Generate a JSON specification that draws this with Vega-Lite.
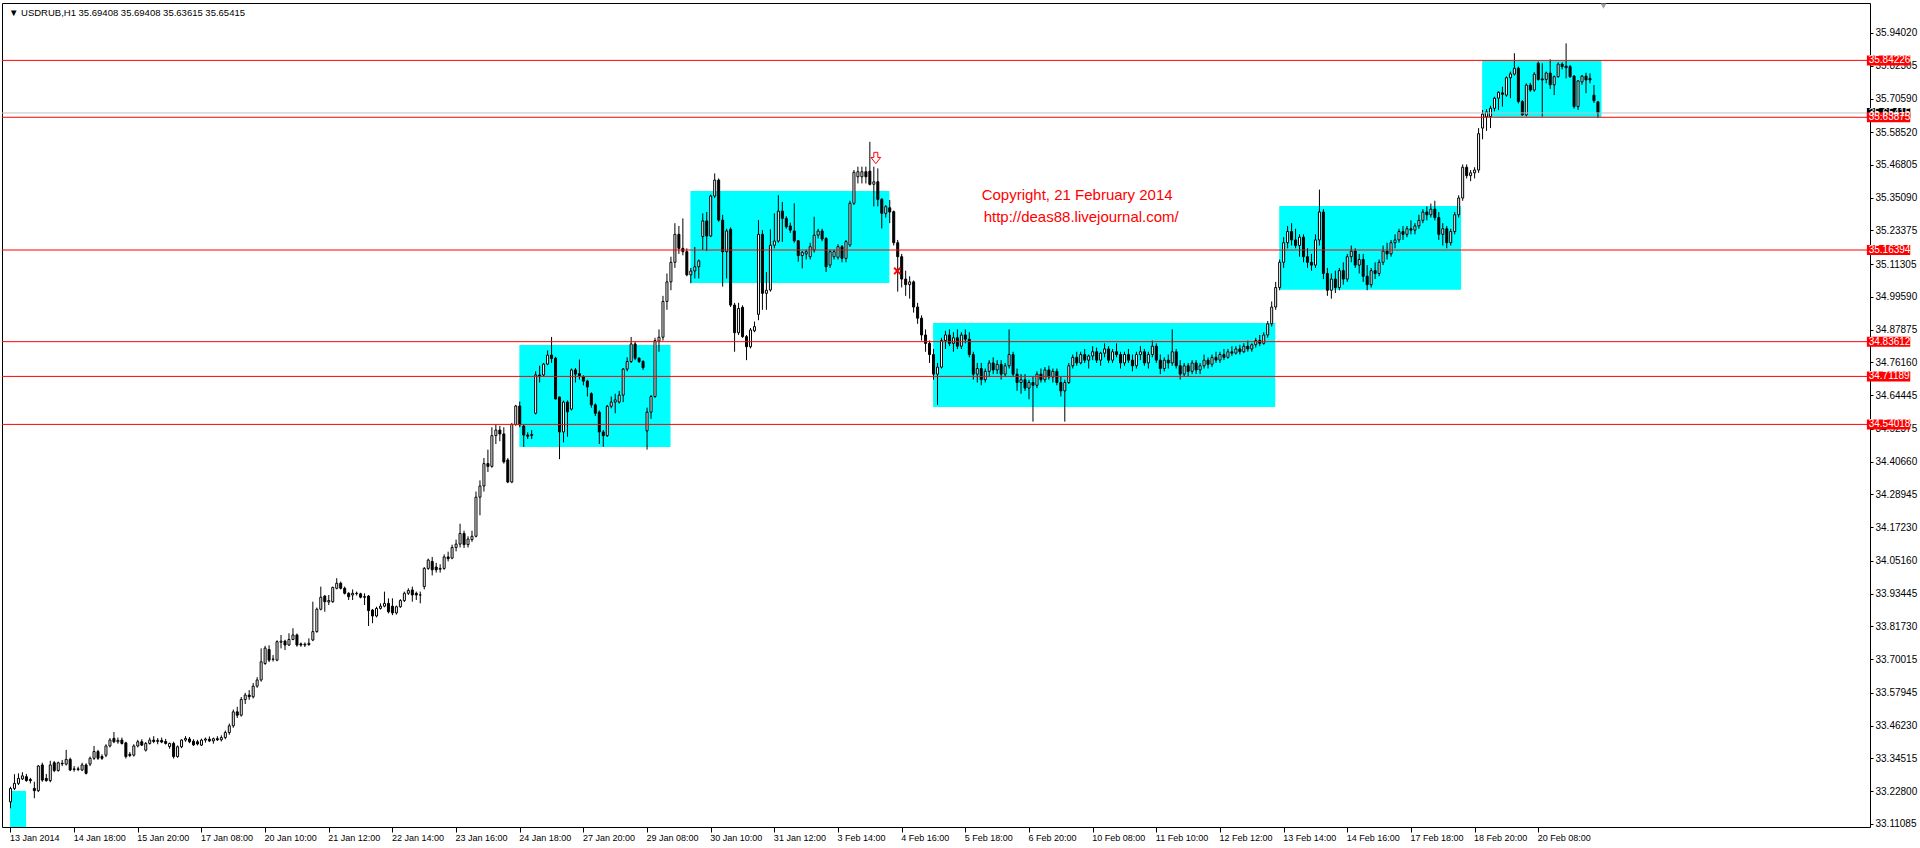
{
"$schema": "https://vega.github.io/schema/vega-lite/v6.json",
"width": 1868, "height": 824,
"autosize": "none",
"padding": {"left": 2, "top": 3, "right": 50, "bottom": 21},
"background": "white",
"config": {"view": {"stroke": "black", "strokeWidth": 1}, "font": "Liberation Sans",
 "axis": {"labelOverlap": false, "labelBound": false, "labelFlush": false, "grid": false, "domain": false, "title": null},
 "axisQuantitative": {"labelOverlap": false, "tickCount": 25}},
"title": {"text": "▼  USDRUB,H1  35.69408 35.69408 35.63615 35.65415", "anchor": "start", "orient": "top", "frame": "group", "offset": -9, "dx": 7, "dy": 10, "baseline": "middle", "fontSize": 9.5, "fontWeight": "normal", "color": "black", "font": "Liberation Sans"},
"datasets": {
"bars": [
{"i":0,"o":33.190,"h":33.244,"l":33.167,"c":33.238},
{"i":1,"o":33.238,"h":33.289,"l":33.232,"c":33.256},
{"i":2,"o":33.256,"h":33.292,"l":33.250,"c":33.274},
{"i":3,"o":33.272,"h":33.296,"l":33.268,"c":33.283},
{"i":4,"o":33.280,"h":33.290,"l":33.262,"c":33.266},
{"i":5,"o":33.270,"h":33.276,"l":33.256,"c":33.266},
{"i":6,"o":33.238,"h":33.262,"l":33.203,"c":33.230},
{"i":7,"o":33.230,"h":33.322,"l":33.225,"c":33.318},
{"i":8,"o":33.322,"h":33.330,"l":33.262,"c":33.268},
{"i":9,"o":33.274,"h":33.290,"l":33.262,"c":33.266},
{"i":10,"o":33.266,"h":33.337,"l":33.260,"c":33.322},
{"i":11,"o":33.330,"h":33.336,"l":33.296,"c":33.302},
{"i":12,"o":33.302,"h":33.334,"l":33.298,"c":33.330},
{"i":13,"o":33.328,"h":33.340,"l":33.318,"c":33.326},
{"i":14,"o":33.325,"h":33.376,"l":33.320,"c":33.342},
{"i":15,"o":33.342,"h":33.348,"l":33.300,"c":33.304},
{"i":16,"o":33.306,"h":33.318,"l":33.298,"c":33.308},
{"i":17,"o":33.308,"h":33.316,"l":33.300,"c":33.306},
{"i":18,"o":33.304,"h":33.330,"l":33.300,"c":33.322},
{"i":19,"o":33.322,"h":33.328,"l":33.288,"c":33.292},
{"i":20,"o":33.325,"h":33.352,"l":33.318,"c":33.346},
{"i":21,"o":33.346,"h":33.390,"l":33.340,"c":33.370},
{"i":22,"o":33.370,"h":33.376,"l":33.340,"c":33.346},
{"i":23,"o":33.352,"h":33.360,"l":33.340,"c":33.346},
{"i":24,"o":33.357,"h":33.396,"l":33.350,"c":33.390},
{"i":25,"o":33.390,"h":33.418,"l":33.385,"c":33.411},
{"i":26,"o":33.417,"h":33.440,"l":33.400,"c":33.405},
{"i":27,"o":33.405,"h":33.420,"l":33.398,"c":33.410},
{"i":28,"o":33.411,"h":33.420,"l":33.395,"c":33.399},
{"i":29,"o":33.401,"h":33.405,"l":33.345,"c":33.352},
{"i":30,"o":33.360,"h":33.368,"l":33.350,"c":33.356},
{"i":31,"o":33.357,"h":33.396,"l":33.352,"c":33.390},
{"i":32,"o":33.390,"h":33.412,"l":33.385,"c":33.405},
{"i":33,"o":33.405,"h":33.414,"l":33.390,"c":33.393},
{"i":34,"o":33.375,"h":33.404,"l":33.370,"c":33.399},
{"i":35,"o":33.399,"h":33.420,"l":33.395,"c":33.411},
{"i":36,"o":33.411,"h":33.425,"l":33.400,"c":33.406},
{"i":37,"o":33.406,"h":33.418,"l":33.396,"c":33.410},
{"i":38,"o":33.410,"h":33.420,"l":33.400,"c":33.404},
{"i":39,"o":33.406,"h":33.415,"l":33.395,"c":33.399},
{"i":40,"o":33.388,"h":33.402,"l":33.380,"c":33.399},
{"i":41,"o":33.399,"h":33.405,"l":33.345,"c":33.352},
{"i":42,"o":33.352,"h":33.392,"l":33.348,"c":33.387},
{"i":43,"o":33.387,"h":33.414,"l":33.382,"c":33.411},
{"i":44,"o":33.411,"h":33.425,"l":33.405,"c":33.417},
{"i":45,"o":33.415,"h":33.422,"l":33.400,"c":33.405},
{"i":46,"o":33.407,"h":33.414,"l":33.390,"c":33.394},
{"i":47,"o":33.405,"h":33.412,"l":33.392,"c":33.397},
{"i":48,"o":33.393,"h":33.416,"l":33.390,"c":33.411},
{"i":49,"o":33.411,"h":33.420,"l":33.402,"c":33.415},
{"i":50,"o":33.414,"h":33.424,"l":33.404,"c":33.408},
{"i":51,"o":33.408,"h":33.420,"l":33.398,"c":33.416},
{"i":52,"o":33.416,"h":33.425,"l":33.408,"c":33.412},
{"i":53,"o":33.412,"h":33.428,"l":33.406,"c":33.420},
{"i":54,"o":33.420,"h":33.445,"l":33.414,"c":33.438},
{"i":55,"o":33.438,"h":33.470,"l":33.430,"c":33.462},
{"i":56,"o":33.462,"h":33.520,"l":33.455,"c":33.512},
{"i":57,"o":33.512,"h":33.530,"l":33.490,"c":33.500},
{"i":58,"o":33.500,"h":33.565,"l":33.495,"c":33.556},
{"i":59,"o":33.556,"h":33.580,"l":33.540,"c":33.572},
{"i":60,"o":33.572,"h":33.590,"l":33.555,"c":33.566},
{"i":61,"o":33.566,"h":33.615,"l":33.560,"c":33.604},
{"i":62,"o":33.604,"h":33.636,"l":33.598,"c":33.626},
{"i":63,"o":33.626,"h":33.739,"l":33.620,"c":33.691},
{"i":64,"o":33.685,"h":33.748,"l":33.680,"c":33.740},
{"i":65,"o":33.735,"h":33.750,"l":33.690,"c":33.697},
{"i":66,"o":33.700,"h":33.715,"l":33.692,"c":33.701},
{"i":67,"o":33.697,"h":33.768,"l":33.693,"c":33.763},
{"i":68,"o":33.761,"h":33.787,"l":33.739,"c":33.765},
{"i":69,"o":33.765,"h":33.770,"l":33.733,"c":33.751},
{"i":70,"o":33.751,"h":33.793,"l":33.748,"c":33.771},
{"i":71,"o":33.771,"h":33.811,"l":33.768,"c":33.787},
{"i":72,"o":33.787,"h":33.792,"l":33.745,"c":33.751},
{"i":73,"o":33.755,"h":33.760,"l":33.745,"c":33.751},
{"i":74,"o":33.751,"h":33.760,"l":33.744,"c":33.754},
{"i":75,"o":33.753,"h":33.775,"l":33.748,"c":33.757},
{"i":76,"o":33.769,"h":33.906,"l":33.765,"c":33.799},
{"i":77,"o":33.799,"h":33.885,"l":33.795,"c":33.879},
{"i":78,"o":33.879,"h":33.960,"l":33.875,"c":33.922},
{"i":79,"o":33.926,"h":33.930,"l":33.870,"c":33.906},
{"i":80,"o":33.905,"h":33.930,"l":33.894,"c":33.910},
{"i":81,"o":33.906,"h":33.960,"l":33.902,"c":33.957},
{"i":82,"o":33.954,"h":33.990,"l":33.950,"c":33.972},
{"i":83,"o":33.972,"h":33.978,"l":33.950,"c":33.954},
{"i":84,"o":33.954,"h":33.960,"l":33.932,"c":33.936},
{"i":85,"o":33.936,"h":33.940,"l":33.912,"c":33.924},
{"i":86,"o":33.930,"h":33.950,"l":33.912,"c":33.936},
{"i":87,"o":33.936,"h":33.942,"l":33.928,"c":33.935},
{"i":88,"o":33.934,"h":33.938,"l":33.918,"c":33.922},
{"i":89,"o":33.924,"h":33.936,"l":33.894,"c":33.922},
{"i":90,"o":33.926,"h":33.930,"l":33.819,"c":33.874},
{"i":91,"o":33.876,"h":33.880,"l":33.829,"c":33.855},
{"i":92,"o":33.855,"h":33.888,"l":33.850,"c":33.882},
{"i":93,"o":33.882,"h":33.900,"l":33.878,"c":33.890},
{"i":94,"o":33.890,"h":33.942,"l":33.886,"c":33.900},
{"i":95,"o":33.900,"h":33.918,"l":33.864,"c":33.870},
{"i":96,"o":33.890,"h":33.918,"l":33.858,"c":33.866},
{"i":97,"o":33.866,"h":33.892,"l":33.860,"c":33.888},
{"i":98,"o":33.888,"h":33.915,"l":33.884,"c":33.910},
{"i":99,"o":33.910,"h":33.942,"l":33.905,"c":33.936},
{"i":100,"o":33.936,"h":33.954,"l":33.930,"c":33.946},
{"i":101,"o":33.948,"h":33.960,"l":33.906,"c":33.930},
{"i":102,"o":33.936,"h":33.942,"l":33.912,"c":33.930},
{"i":103,"o":33.930,"h":33.942,"l":33.900,"c":33.930},
{"i":104,"o":33.960,"h":34.030,"l":33.950,"c":34.025},
{"i":105,"o":34.025,"h":34.060,"l":34.020,"c":34.055},
{"i":106,"o":34.050,"h":34.066,"l":34.000,"c":34.020},
{"i":107,"o":34.030,"h":34.045,"l":34.010,"c":34.020},
{"i":108,"o":34.022,"h":34.040,"l":34.010,"c":34.025},
{"i":109,"o":34.025,"h":34.075,"l":34.020,"c":34.066},
{"i":110,"o":34.066,"h":34.085,"l":34.050,"c":34.060},
{"i":111,"o":34.062,"h":34.110,"l":34.058,"c":34.100},
{"i":112,"o":34.100,"h":34.128,"l":34.086,"c":34.112},
{"i":113,"o":34.112,"h":34.185,"l":34.100,"c":34.150},
{"i":114,"o":34.150,"h":34.160,"l":34.098,"c":34.110},
{"i":115,"o":34.110,"h":34.140,"l":34.100,"c":34.130},
{"i":116,"o":34.128,"h":34.160,"l":34.120,"c":34.140},
{"i":117,"o":34.140,"h":34.300,"l":34.136,"c":34.280},
{"i":118,"o":34.280,"h":34.340,"l":34.215,"c":34.320},
{"i":119,"o":34.320,"h":34.420,"l":34.300,"c":34.400},
{"i":120,"o":34.400,"h":34.450,"l":34.370,"c":34.390},
{"i":121,"o":34.390,"h":34.530,"l":34.385,"c":34.500},
{"i":122,"o":34.500,"h":34.540,"l":34.470,"c":34.520},
{"i":123,"o":34.520,"h":34.535,"l":34.480,"c":34.506},
{"i":124,"o":34.506,"h":34.530,"l":34.400,"c":34.406},
{"i":125,"o":34.413,"h":34.420,"l":34.330,"c":34.334},
{"i":126,"o":34.334,"h":34.545,"l":34.330,"c":34.540},
{"i":127,"o":34.540,"h":34.610,"l":34.535,"c":34.606},
{"i":128,"o":34.606,"h":34.622,"l":34.530,"c":34.538},
{"i":129,"o":34.534,"h":34.540,"l":34.460,"c":34.502},
{"i":130,"o":34.502,"h":34.512,"l":34.488,"c":34.498},
{"i":131,"o":34.500,"h":34.520,"l":34.488,"c":34.504},
{"i":132,"o":34.580,"h":34.730,"l":34.576,"c":34.717},
{"i":133,"o":34.717,"h":34.750,"l":34.690,"c":34.712},
{"i":134,"o":34.717,"h":34.760,"l":34.712,"c":34.756},
{"i":135,"o":34.756,"h":34.805,"l":34.752,"c":34.788},
{"i":136,"o":34.788,"h":34.853,"l":34.760,"c":34.776},
{"i":137,"o":34.777,"h":34.782,"l":34.630,"c":34.631},
{"i":138,"o":34.638,"h":34.640,"l":34.416,"c":34.513},
{"i":139,"o":34.513,"h":34.625,"l":34.476,"c":34.620},
{"i":140,"o":34.620,"h":34.626,"l":34.496,"c":34.585},
{"i":141,"o":34.595,"h":34.740,"l":34.590,"c":34.735},
{"i":142,"o":34.735,"h":34.742,"l":34.690,"c":34.720},
{"i":143,"o":34.722,"h":34.772,"l":34.700,"c":34.714},
{"i":144,"o":34.710,"h":34.716,"l":34.680,"c":34.695},
{"i":145,"o":34.695,"h":34.700,"l":34.640,"c":34.674},
{"i":146,"o":34.650,"h":34.655,"l":34.600,"c":34.610},
{"i":147,"o":34.610,"h":34.615,"l":34.570,"c":34.580},
{"i":148,"o":34.584,"h":34.590,"l":34.470,"c":34.513},
{"i":149,"o":34.513,"h":34.520,"l":34.460,"c":34.500},
{"i":150,"o":34.500,"h":34.610,"l":34.495,"c":34.605},
{"i":151,"o":34.605,"h":34.640,"l":34.598,"c":34.620},
{"i":152,"o":34.620,"h":34.650,"l":34.580,"c":34.628},
{"i":153,"o":34.620,"h":34.660,"l":34.615,"c":34.645},
{"i":154,"o":34.645,"h":34.742,"l":34.620,"c":34.738},
{"i":155,"o":34.738,"h":34.780,"l":34.730,"c":34.765},
{"i":156,"o":34.765,"h":34.853,"l":34.760,"c":34.828},
{"i":157,"o":34.828,"h":34.835,"l":34.770,"c":34.777},
{"i":158,"o":34.777,"h":34.780,"l":34.760,"c":34.765},
{"i":159,"o":34.765,"h":34.770,"l":34.735,"c":34.743},
{"i":160,"o":34.517,"h":34.600,"l":34.450,"c":34.584},
{"i":161,"o":34.584,"h":34.645,"l":34.560,"c":34.640},
{"i":162,"o":34.640,"h":34.850,"l":34.635,"c":34.840},
{"i":163,"o":34.838,"h":34.880,"l":34.800,"c":34.852},
{"i":164,"o":34.852,"h":35.000,"l":34.840,"c":34.980},
{"i":165,"o":34.980,"h":35.080,"l":34.950,"c":35.050},
{"i":166,"o":35.050,"h":35.140,"l":35.020,"c":35.120},
{"i":167,"o":35.120,"h":35.260,"l":35.100,"c":35.220},
{"i":168,"o":35.220,"h":35.250,"l":35.150,"c":35.170},
{"i":169,"o":35.170,"h":35.277,"l":35.145,"c":35.158},
{"i":170,"o":35.158,"h":35.170,"l":35.070,"c":35.075},
{"i":171,"o":35.075,"h":35.100,"l":35.045,"c":35.089},
{"i":172,"o":35.089,"h":35.175,"l":35.062,"c":35.104},
{"i":173,"o":35.104,"h":35.130,"l":35.062,"c":35.125},
{"i":174,"o":35.212,"h":35.295,"l":35.164,"c":35.268},
{"i":175,"o":35.268,"h":35.300,"l":35.160,"c":35.214},
{"i":176,"o":35.214,"h":35.362,"l":35.210,"c":35.357},
{"i":177,"o":35.357,"h":35.438,"l":35.350,"c":35.414},
{"i":178,"o":35.414,"h":35.420,"l":35.265,"c":35.271},
{"i":179,"o":35.271,"h":35.290,"l":35.033,"c":35.158},
{"i":180,"o":35.158,"h":35.240,"l":35.062,"c":35.232},
{"i":181,"o":35.238,"h":35.245,"l":34.960,"c":34.967},
{"i":182,"o":34.967,"h":34.975,"l":34.800,"c":34.868},
{"i":183,"o":34.868,"h":34.975,"l":34.860,"c":34.955},
{"i":184,"o":34.959,"h":34.966,"l":34.850,"c":34.854},
{"i":185,"o":34.854,"h":34.860,"l":34.770,"c":34.818},
{"i":186,"o":34.818,"h":34.885,"l":34.812,"c":34.878},
{"i":187,"o":34.875,"h":34.908,"l":34.870,"c":34.890},
{"i":188,"o":34.934,"h":35.271,"l":34.913,"c":35.220},
{"i":189,"o":35.220,"h":35.235,"l":34.950,"c":35.009},
{"i":190,"o":35.009,"h":35.085,"l":34.950,"c":35.020},
{"i":191,"o":35.021,"h":35.238,"l":35.015,"c":35.181},
{"i":192,"o":35.181,"h":35.295,"l":35.170,"c":35.196},
{"i":193,"o":35.196,"h":35.360,"l":35.190,"c":35.303},
{"i":194,"o":35.303,"h":35.336,"l":35.193,"c":35.277},
{"i":195,"o":35.277,"h":35.285,"l":35.240,"c":35.247},
{"i":196,"o":35.250,"h":35.262,"l":35.225,"c":35.235},
{"i":197,"o":35.232,"h":35.331,"l":35.190,"c":35.197},
{"i":198,"o":35.197,"h":35.200,"l":35.122,"c":35.144},
{"i":199,"o":35.144,"h":35.160,"l":35.098,"c":35.156},
{"i":200,"o":35.150,"h":35.165,"l":35.130,"c":35.158},
{"i":201,"o":35.140,"h":35.190,"l":35.130,"c":35.176},
{"i":202,"o":35.164,"h":35.283,"l":35.155,"c":35.217},
{"i":203,"o":35.217,"h":35.240,"l":35.205,"c":35.232},
{"i":204,"o":35.232,"h":35.240,"l":35.195,"c":35.203},
{"i":205,"o":35.205,"h":35.210,"l":35.085,"c":35.104},
{"i":206,"o":35.110,"h":35.165,"l":35.100,"c":35.158},
{"i":207,"o":35.140,"h":35.165,"l":35.130,"c":35.158},
{"i":208,"o":35.138,"h":35.185,"l":35.130,"c":35.176},
{"i":209,"o":35.176,"h":35.182,"l":35.120,"c":35.134},
{"i":210,"o":35.134,"h":35.200,"l":35.120,"c":35.194},
{"i":211,"o":35.182,"h":35.340,"l":35.175,"c":35.331},
{"i":212,"o":35.331,"h":35.450,"l":35.325,"c":35.442},
{"i":213,"o":35.426,"h":35.462,"l":35.402,"c":35.444},
{"i":214,"o":35.426,"h":35.462,"l":35.402,"c":35.444},
{"i":215,"o":35.444,"h":35.462,"l":35.402,"c":35.426},
{"i":216,"o":35.446,"h":35.551,"l":35.395,"c":35.399},
{"i":217,"o":35.399,"h":35.462,"l":35.320,"c":35.408},
{"i":218,"o":35.408,"h":35.456,"l":35.320,"c":35.345},
{"i":219,"o":35.345,"h":35.350,"l":35.241,"c":35.295},
{"i":220,"o":35.295,"h":35.325,"l":35.280,"c":35.319},
{"i":221,"o":35.315,"h":35.343,"l":35.260,"c":35.300},
{"i":222,"o":35.301,"h":35.305,"l":35.180,"c":35.190},
{"i":223,"o":35.190,"h":35.200,"l":35.015,"c":35.140},
{"i":224,"o":35.140,"h":35.150,"l":35.030,"c":35.060},
{"i":225,"o":35.060,"h":35.090,"l":35.000,"c":35.040},
{"i":226,"o":35.040,"h":35.070,"l":34.990,"c":35.050},
{"i":227,"o":35.050,"h":35.055,"l":34.940,"c":34.960},
{"i":228,"o":34.960,"h":34.975,"l":34.900,"c":34.920},
{"i":229,"o":34.920,"h":34.930,"l":34.840,"c":34.860},
{"i":230,"o":34.860,"h":34.880,"l":34.800,"c":34.830},
{"i":231,"o":34.830,"h":34.840,"l":34.760,"c":34.790},
{"i":232,"o":34.790,"h":34.810,"l":34.700,"c":34.720},
{"i":233,"o":34.720,"h":34.760,"l":34.610,"c":34.745},
{"i":234,"o":34.745,"h":34.850,"l":34.740,"c":34.840},
{"i":235,"o":34.840,"h":34.875,"l":34.810,"c":34.860},
{"i":236,"o":34.860,"h":34.880,"l":34.820,"c":34.830},
{"i":237,"o":34.830,"h":34.870,"l":34.800,"c":34.850},
{"i":238,"o":34.850,"h":34.880,"l":34.810,"c":34.820},
{"i":239,"o":34.820,"h":34.870,"l":34.810,"c":34.860},
{"i":240,"o":34.860,"h":34.880,"l":34.830,"c":34.845},
{"i":241,"o":34.845,"h":34.870,"l":34.780,"c":34.790},
{"i":242,"o":34.790,"h":34.800,"l":34.700,"c":34.720},
{"i":243,"o":34.720,"h":34.760,"l":34.690,"c":34.740},
{"i":244,"o":34.740,"h":34.760,"l":34.680,"c":34.700},
{"i":245,"o":34.700,"h":34.740,"l":34.690,"c":34.730},
{"i":246,"o":34.730,"h":34.770,"l":34.710,"c":34.760},
{"i":247,"o":34.760,"h":34.780,"l":34.720,"c":34.735},
{"i":248,"o":34.735,"h":34.770,"l":34.720,"c":34.755},
{"i":249,"o":34.755,"h":34.770,"l":34.700,"c":34.720},
{"i":250,"o":34.720,"h":34.760,"l":34.710,"c":34.750},
{"i":251,"o":34.750,"h":34.880,"l":34.740,"c":34.790},
{"i":252,"o":34.790,"h":34.800,"l":34.710,"c":34.720},
{"i":253,"o":34.720,"h":34.740,"l":34.660,"c":34.690},
{"i":254,"o":34.690,"h":34.720,"l":34.650,"c":34.700},
{"i":255,"o":34.700,"h":34.720,"l":34.660,"c":34.670},
{"i":256,"o":34.670,"h":34.700,"l":34.630,"c":34.690},
{"i":257,"o":34.690,"h":34.710,"l":34.550,"c":34.680},
{"i":258,"o":34.680,"h":34.730,"l":34.670,"c":34.720},
{"i":259,"o":34.720,"h":34.740,"l":34.690,"c":34.700},
{"i":260,"o":34.700,"h":34.745,"l":34.690,"c":34.735},
{"i":261,"o":34.735,"h":34.750,"l":34.700,"c":34.710},
{"i":262,"o":34.710,"h":34.740,"l":34.690,"c":34.730},
{"i":263,"o":34.730,"h":34.740,"l":34.680,"c":34.690},
{"i":264,"o":34.690,"h":34.710,"l":34.640,"c":34.660},
{"i":265,"o":34.660,"h":34.700,"l":34.550,"c":34.690},
{"i":266,"o":34.690,"h":34.760,"l":34.685,"c":34.750},
{"i":267,"o":34.750,"h":34.790,"l":34.740,"c":34.780},
{"i":268,"o":34.780,"h":34.800,"l":34.750,"c":34.760},
{"i":269,"o":34.760,"h":34.800,"l":34.755,"c":34.790},
{"i":270,"o":34.790,"h":34.810,"l":34.760,"c":34.770},
{"i":271,"o":34.770,"h":34.790,"l":34.740,"c":34.785},
{"i":272,"o":34.785,"h":34.820,"l":34.770,"c":34.800},
{"i":273,"o":34.800,"h":34.815,"l":34.760,"c":34.770},
{"i":274,"o":34.770,"h":34.800,"l":34.750,"c":34.795},
{"i":275,"o":34.795,"h":34.830,"l":34.780,"c":34.810},
{"i":276,"o":34.810,"h":34.820,"l":34.760,"c":34.770},
{"i":277,"o":34.770,"h":34.810,"l":34.760,"c":34.800},
{"i":278,"o":34.800,"h":34.830,"l":34.780,"c":34.790},
{"i":279,"o":34.790,"h":34.800,"l":34.740,"c":34.760},
{"i":280,"o":34.760,"h":34.800,"l":34.750,"c":34.790},
{"i":281,"o":34.790,"h":34.810,"l":34.760,"c":34.770},
{"i":282,"o":34.770,"h":34.790,"l":34.730,"c":34.750},
{"i":283,"o":34.750,"h":34.800,"l":34.740,"c":34.790},
{"i":284,"o":34.790,"h":34.820,"l":34.770,"c":34.800},
{"i":285,"o":34.800,"h":34.810,"l":34.750,"c":34.760},
{"i":286,"o":34.760,"h":34.800,"l":34.740,"c":34.790},
{"i":287,"o":34.790,"h":34.840,"l":34.780,"c":34.820},
{"i":288,"o":34.820,"h":34.830,"l":34.760,"c":34.770},
{"i":289,"o":34.770,"h":34.790,"l":34.720,"c":34.740},
{"i":290,"o":34.740,"h":34.780,"l":34.730,"c":34.770},
{"i":291,"o":34.770,"h":34.790,"l":34.740,"c":34.760},
{"i":292,"o":34.760,"h":34.880,"l":34.750,"c":34.800},
{"i":293,"o":34.800,"h":34.810,"l":34.740,"c":34.750},
{"i":294,"o":34.750,"h":34.770,"l":34.700,"c":34.720},
{"i":295,"o":34.720,"h":34.760,"l":34.710,"c":34.750},
{"i":296,"o":34.750,"h":34.760,"l":34.710,"c":34.730},
{"i":297,"o":34.730,"h":34.770,"l":34.720,"c":34.760},
{"i":298,"o":34.760,"h":34.770,"l":34.720,"c":34.735},
{"i":299,"o":34.735,"h":34.760,"l":34.720,"c":34.750},
{"i":300,"o":34.750,"h":34.790,"l":34.740,"c":34.770},
{"i":301,"o":34.770,"h":34.780,"l":34.740,"c":34.755},
{"i":302,"o":34.755,"h":34.790,"l":34.745,"c":34.780},
{"i":303,"o":34.780,"h":34.800,"l":34.760,"c":34.770},
{"i":304,"o":34.770,"h":34.800,"l":34.760,"c":34.790},
{"i":305,"o":34.790,"h":34.810,"l":34.770,"c":34.780},
{"i":306,"o":34.780,"h":34.810,"l":34.775,"c":34.800},
{"i":307,"o":34.800,"h":34.820,"l":34.785,"c":34.795},
{"i":308,"o":34.795,"h":34.820,"l":34.790,"c":34.810},
{"i":309,"o":34.810,"h":34.825,"l":34.790,"c":34.800},
{"i":310,"o":34.800,"h":34.830,"l":34.795,"c":34.820},
{"i":311,"o":34.820,"h":34.840,"l":34.800,"c":34.810},
{"i":312,"o":34.810,"h":34.830,"l":34.800,"c":34.825},
{"i":313,"o":34.825,"h":34.850,"l":34.815,"c":34.840},
{"i":314,"o":34.840,"h":34.860,"l":34.820,"c":34.830},
{"i":315,"o":34.830,"h":34.870,"l":34.825,"c":34.860},
{"i":316,"o":34.860,"h":34.910,"l":34.850,"c":34.900},
{"i":317,"o":34.900,"h":34.980,"l":34.890,"c":34.960},
{"i":318,"o":34.960,"h":35.050,"l":34.950,"c":35.030},
{"i":319,"o":35.030,"h":35.130,"l":35.020,"c":35.120},
{"i":320,"o":35.120,"h":35.210,"l":35.100,"c":35.190},
{"i":321,"o":35.190,"h":35.250,"l":35.170,"c":35.230},
{"i":322,"o":35.230,"h":35.260,"l":35.180,"c":35.200},
{"i":323,"o":35.200,"h":35.240,"l":35.170,"c":35.180},
{"i":324,"o":35.180,"h":35.220,"l":35.140,"c":35.210},
{"i":325,"o":35.210,"h":35.220,"l":35.120,"c":35.140},
{"i":326,"o":35.140,"h":35.170,"l":35.100,"c":35.120},
{"i":327,"o":35.120,"h":35.150,"l":35.090,"c":35.110},
{"i":328,"o":35.110,"h":35.220,"l":35.100,"c":35.200},
{"i":329,"o":35.200,"h":35.380,"l":35.180,"c":35.300},
{"i":330,"o":35.300,"h":35.310,"l":35.060,"c":35.080},
{"i":331,"o":35.080,"h":35.100,"l":35.000,"c":35.020},
{"i":332,"o":35.020,"h":35.080,"l":34.990,"c":35.060},
{"i":333,"o":35.060,"h":35.090,"l":35.010,"c":35.030},
{"i":334,"o":35.030,"h":35.100,"l":35.020,"c":35.090},
{"i":335,"o":35.090,"h":35.120,"l":35.040,"c":35.060},
{"i":336,"o":35.060,"h":35.150,"l":35.050,"c":35.140},
{"i":337,"o":35.140,"h":35.180,"l":35.120,"c":35.160},
{"i":338,"o":35.160,"h":35.170,"l":35.100,"c":35.110},
{"i":339,"o":35.110,"h":35.150,"l":35.080,"c":35.130},
{"i":340,"o":35.130,"h":35.150,"l":35.050,"c":35.070},
{"i":341,"o":35.070,"h":35.110,"l":35.020,"c":35.040},
{"i":342,"o":35.040,"h":35.100,"l":35.030,"c":35.090},
{"i":343,"o":35.090,"h":35.120,"l":35.060,"c":35.080},
{"i":344,"o":35.080,"h":35.130,"l":35.070,"c":35.120},
{"i":345,"o":35.120,"h":35.180,"l":35.110,"c":35.160},
{"i":346,"o":35.160,"h":35.190,"l":35.130,"c":35.150},
{"i":347,"o":35.150,"h":35.200,"l":35.140,"c":35.190},
{"i":348,"o":35.190,"h":35.220,"l":35.170,"c":35.200},
{"i":349,"o":35.200,"h":35.240,"l":35.190,"c":35.230},
{"i":350,"o":35.230,"h":35.250,"l":35.200,"c":35.220},
{"i":351,"o":35.220,"h":35.250,"l":35.210,"c":35.240},
{"i":352,"o":35.240,"h":35.270,"l":35.220,"c":35.235},
{"i":353,"o":35.235,"h":35.260,"l":35.220,"c":35.250},
{"i":354,"o":35.250,"h":35.290,"l":35.240,"c":35.270},
{"i":355,"o":35.270,"h":35.310,"l":35.260,"c":35.300},
{"i":356,"o":35.300,"h":35.320,"l":35.270,"c":35.290},
{"i":357,"o":35.290,"h":35.330,"l":35.280,"c":35.310},
{"i":358,"o":35.310,"h":35.340,"l":35.270,"c":35.280},
{"i":359,"o":35.280,"h":35.300,"l":35.200,"c":35.220},
{"i":360,"o":35.220,"h":35.260,"l":35.180,"c":35.240},
{"i":361,"o":35.240,"h":35.250,"l":35.170,"c":35.190},
{"i":362,"o":35.190,"h":35.240,"l":35.180,"c":35.230},
{"i":363,"o":35.230,"h":35.300,"l":35.220,"c":35.290},
{"i":364,"o":35.290,"h":35.360,"l":35.280,"c":35.350},
{"i":365,"o":35.350,"h":35.470,"l":35.340,"c":35.460},
{"i":366,"o":35.460,"h":35.470,"l":35.420,"c":35.430},
{"i":367,"o":35.430,"h":35.450,"l":35.410,"c":35.440},
{"i":368,"o":35.440,"h":35.460,"l":35.420,"c":35.450},
{"i":369,"o":35.450,"h":35.600,"l":35.440,"c":35.580},
{"i":370,"o":35.600,"h":35.665,"l":35.560,"c":35.650},
{"i":371,"o":35.640,"h":35.668,"l":35.590,"c":35.658},
{"i":372,"o":35.641,"h":35.680,"l":35.600,"c":35.671},
{"i":373,"o":35.671,"h":35.712,"l":35.660,"c":35.707},
{"i":374,"o":35.707,"h":35.732,"l":35.665,"c":35.728},
{"i":375,"o":35.726,"h":35.748,"l":35.677,"c":35.721},
{"i":376,"o":35.718,"h":35.785,"l":35.712,"c":35.780},
{"i":377,"o":35.780,"h":35.802,"l":35.707,"c":35.794},
{"i":378,"o":35.793,"h":35.868,"l":35.788,"c":35.814},
{"i":379,"o":35.814,"h":35.820,"l":35.688,"c":35.695},
{"i":380,"o":35.695,"h":35.700,"l":35.645,"c":35.647},
{"i":381,"o":35.647,"h":35.760,"l":35.642,"c":35.754},
{"i":382,"o":35.754,"h":35.762,"l":35.730,"c":35.736},
{"i":383,"o":35.736,"h":35.800,"l":35.730,"c":35.793},
{"i":384,"o":35.832,"h":35.838,"l":35.770,"c":35.774},
{"i":385,"o":35.776,"h":35.832,"l":35.641,"c":35.772},
{"i":386,"o":35.774,"h":35.802,"l":35.760,"c":35.797},
{"i":387,"o":35.797,"h":35.846,"l":35.740,"c":35.755},
{"i":388,"o":35.755,"h":35.788,"l":35.718,"c":35.784},
{"i":389,"o":35.784,"h":35.835,"l":35.780,"c":35.829},
{"i":390,"o":35.829,"h":35.835,"l":35.810,"c":35.820},
{"i":391,"o":35.822,"h":35.903,"l":35.778,"c":35.816},
{"i":392,"o":35.820,"h":35.826,"l":35.780,"c":35.784},
{"i":393,"o":35.786,"h":35.790,"l":35.670,"c":35.677},
{"i":394,"o":35.677,"h":35.772,"l":35.665,"c":35.769},
{"i":395,"o":35.765,"h":35.790,"l":35.755,"c":35.786},
{"i":396,"o":35.786,"h":35.798,"l":35.725,"c":35.772},
{"i":397,"o":35.778,"h":35.796,"l":35.760,"c":35.772},
{"i":398,"o":35.718,"h":35.754,"l":35.690,"c":35.698},
{"i":399,"o":35.69408,"h":35.69408,"l":35.63615,"c":35.65415}
],
"boxes": [
{"x0":-0.1,"x1":3.9,"y0":33.1001,"y1":33.229},
{"x0":127.9,"x1":165.9,"y0":34.459,"y1":34.824},
{"x0":170.9,"x1":220.9,"y0":35.046,"y1":35.375},
{"x0":231.9,"x1":317.9,"y0":34.602,"y1":34.903},
{"x0":318.9,"x1":364.6,"y0":35.022,"y1":35.321},
{"x0":369.9,"x1":399.9,"y0":35.63875,"y1":35.84226}
],
"tags": [
{"p":35.65415,"t":"bid"},
{"p":35.84226,"t":"lvl"},
{"p":35.63875,"t":"lvl"},
{"p":35.16394,"t":"lvl"},
{"p":34.83612,"t":"lvl"},
{"p":34.71189,"t":"lvl"},
{"p":34.54018,"t":"lvl"}
],
"notes": [
{"i":244.1,"p":35.343,"t":"Copyright, 21 February 2014"},
{"i":244.6,"p":35.265,"t":"http://deas88.livejournal.com/"}
],
"signs": [
{"i":217.5,"p":35.493,"k":"arrow"},
{"i":222.9,"p":35.089,"k":"cross"},
{"i":400.4,"p":36.036,"k":"shift"}
]
},
"layer": [
{
"data": {"name": "boxes"},
"mark": {"type": "rect", "color": "#00FFFF"},
"encoding": {
"x": {"field": "x0", "type": "quantitative", "scale": {"domain": [-0.875, 466.125], "nice": false, "zero": false},
 "axis": {"title": null, "orient": "bottom", "values": [0,16,32,48,64,80,96,112,128,144,160,176,192,208,224,240,256,272,288,304,320,336,352,368,384],
  "labelExpr": "['13 Jan 2014','14 Jan 18:00','15 Jan 20:00','17 Jan 08:00','20 Jan 10:00','21 Jan 12:00','22 Jan 14:00','23 Jan 16:00','24 Jan 18:00','27 Jan 20:00','29 Jan 08:00','30 Jan 10:00','31 Jan 12:00','3 Feb 14:00','4 Feb 16:00','5 Feb 18:00','6 Feb 20:00','10 Feb 08:00','11 Feb 10:00','12 Feb 12:00','13 Feb 14:00','14 Feb 16:00','17 Feb 18:00','18 Feb 20:00','20 Feb 08:00'][round(datum.value/16)]",
  "labelAlign": "left", "labelBaseline": "top", "labelPadding": 1, "labelOffset": -1, "labelFontSize": 9, "labelFont": "Liberation Sans", "labelColor": "black",
  "tickSize": 5, "tickColor": "black", "domain": false, "grid": false, "labelOverlap": false, "labelFlush": false, "labelBound": false, "zindex": 0}},
"x2": {"field": "x1"},
"y": {"field": "y0", "type": "quantitative", "scale": {"domain": [33.1001, 36.0475], "nice": false, "zero": false},
 "axis": {"title": null, "orient": "right", "values": [33.11085,33.228,33.34515,33.4623,33.57945,33.70015,33.8173,33.93445,34.0516,34.1723,34.28945,34.4066,34.52375,34.64445,34.7616,34.87875,34.9959,35.11305,35.23375,35.3509,35.46805,35.5852,35.7059,35.82305,35.9402],
  "format": ".5f", "labelFontSize": 10, "labelFont": "Liberation Sans", "labelColor": "black", "labelPadding": 2, "tickSize": 3, "tickColor": "black",
  "domain": false, "grid": false, "labelOverlap": false, "labelFlush": false, "labelBound": false, "zindex": 0}},
"y2": {"field": "y1"}
}
},
{
"data": {"name": "bars"},
"mark": {"type": "rule", "color": "black", "strokeWidth": 1},
"encoding": {
"x": {"field": "i", "type": "quantitative", "scale": {"domain": [-0.875, 466.125], "nice": false, "zero": false}},
"y": {"field": "l", "type": "quantitative", "scale": {"domain": [33.1001, 36.0475], "nice": false, "zero": false}},
"y2": {"field": "h"}
}
},
{
"data": {"name": "bars"},
"mark": {"type": "bar", "width": 2, "stroke": "black", "strokeWidth": 1, "orient": "vertical"},
"encoding": {
"x": {"field": "i", "type": "quantitative", "scale": {"domain": [-0.875, 466.125], "nice": false, "zero": false}},
"y": {"field": "o", "type": "quantitative", "scale": {"domain": [33.1001, 36.0475], "nice": false, "zero": false}},
"y2": {"field": "c"},
"fill": {"condition": {"test": "datum.c >= datum.o", "value": "white"}, "value": "black"}
}
},
{
"data": {"name": "tags"},
"mark": {"type": "rule", "strokeWidth": 1},
"encoding": {
"y": {"field": "p", "type": "quantitative", "scale": {"domain": [33.1001, 36.0475], "nice": false, "zero": false}},
"color": {"condition": {"test": "datum.t == 'bid'", "value": "#C0C0C0"}, "value": "#FF0000"}
}
},
{
"data": {"name": "signs"},
"transform": [{"filter": "datum.k == 'arrow'"}],
"mark": {"type": "point", "shape": "M-0.35,-1L0.35,-1L0.35,-0.1L0.85,-0.1L0,1L-0.85,-0.1L-0.35,-0.1Z", "size": 130, "filled": true, "fill": "white", "stroke": "#FF0000", "strokeWidth": 1, "opacity": 1},
"encoding": {
"x": {"field": "i", "type": "quantitative", "scale": {"domain": [-0.875, 466.125], "nice": false, "zero": false}},
"y": {"field": "p", "type": "quantitative", "scale": {"domain": [33.1001, 36.0475], "nice": false, "zero": false}}
}
},
{
"data": {"name": "signs"},
"transform": [{"filter": "datum.k == 'cross'"}],
"mark": {"type": "point", "shape": "M-1,-1L1,1M1,-1L-1,1", "size": 40, "filled": false, "stroke": "#FF0000", "strokeWidth": 2, "opacity": 1},
"encoding": {
"x": {"field": "i", "type": "quantitative", "scale": {"domain": [-0.875, 466.125], "nice": false, "zero": false}},
"y": {"field": "p", "type": "quantitative", "scale": {"domain": [33.1001, 36.0475], "nice": false, "zero": false}}
}
},
{
"data": {"name": "signs"},
"transform": [{"filter": "datum.k == 'shift'"}],
"mark": {"type": "point", "shape": "triangle-down", "size": 36, "filled": true, "fill": "#A0A0A0", "strokeWidth": 0, "opacity": 1},
"encoding": {
"x": {"field": "i", "type": "quantitative", "scale": {"domain": [-0.875, 466.125], "nice": false, "zero": false}},
"y": {"field": "p", "type": "quantitative", "scale": {"domain": [33.1001, 36.0475], "nice": false, "zero": false}}
}
},
{
"data": {"name": "notes"},
"mark": {"type": "text", "align": "left", "baseline": "alphabetic", "font": "Liberation Sans", "fontSize": 15, "color": "#FF0000"},
"encoding": {
"x": {"field": "i", "type": "quantitative", "scale": {"domain": [-0.875, 466.125], "nice": false, "zero": false}},
"y": {"field": "p", "type": "quantitative", "scale": {"domain": [33.1001, 36.0475], "nice": false, "zero": false}},
"text": {"field": "t"}
}
},
{
"data": {"name": "tags"},
"mark": {"type": "rect", "yOffset": -5, "y2Offset": 5},
"encoding": {
"x": {"datum": 466.6, "type": "quantitative", "scale": {"domain": [-0.875, 466.125], "nice": false, "zero": false}},
"x2": {"datum": 477.5},
"y": {"field": "p", "type": "quantitative", "scale": {"domain": [33.1001, 36.0475], "nice": false, "zero": false}},
"y2": {"field": "p"},
"color": {"condition": {"test": "datum.t == 'bid'", "value": "#000000"}, "value": "#FF0000"}
}
},
{
"data": {"name": "tags"},
"mark": {"type": "text", "align": "left", "baseline": "middle", "font": "Liberation Sans", "fontSize": 10, "color": "white"},
"encoding": {
"x": {"datum": 467.05, "type": "quantitative", "scale": {"domain": [-0.875, 466.125], "nice": false, "zero": false}},
"y": {"field": "p", "type": "quantitative", "scale": {"domain": [33.1001, 36.0475], "nice": false, "zero": false}},
"text": {"field": "p", "format": ".5f"}
}
}
]
}
